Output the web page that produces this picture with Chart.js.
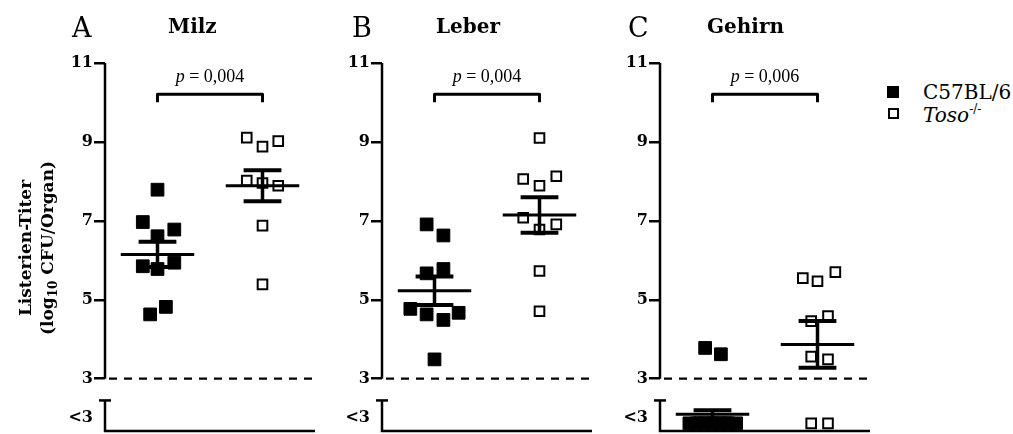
<!DOCTYPE html>
<html>
<head>
<meta charset="utf-8">
<title>Listerien-Titer</title>
<script src="https://cdn.jsdelivr.net/npm/chart.js@4.4.1/dist/chart.umd.min.js"></script>
<style>
  html, body { margin: 0; padding: 0; background: #fff; }
  #page { position: relative; width: 1013px; height: 434px; overflow: hidden; font-family: "DejaVu Serif", serif; color: #000; }
  canvas { position: absolute; top: 0; }
  .letter { position: absolute; top: 14px; font-size: 27px; line-height: 1; }
  .organ { position: absolute; top: 16px; font-size: 20px; font-weight: bold; line-height: 1; }
  #ylabel {
    position: absolute; left: 36px; top: 248px; width: 220px;
    transform: translate(-50%, -50%) rotate(-90deg);
    font-size: 17px; font-weight: bold; line-height: 22px; text-align: center; white-space: nowrap;
  }
  #ylabel sub { font-size: 12px; vertical-align: -4px; line-height: 0; }
  .lg-box { position: absolute; box-sizing: border-box; }
  .lg-text { position: absolute; left: 923px; font-size: 20px; line-height: 1; white-space: nowrap; }
  .lg-text sup { font-size: 12px; vertical-align: 9px; line-height: 0; }
</style>
</head>
<body>
<div id="page">
  <canvas id="panelA" width="330" height="434" style="left:0px"></canvas>
  <canvas id="panelB" width="280" height="434" style="left:330px"></canvas>
  <canvas id="panelC" width="270" height="434" style="left:610px"></canvas>

  <div class="letter" style="left:72px">A</div>
  <div class="organ" style="left:168px">Milz</div>
  <div class="letter" style="left:352px">B</div>
  <div class="organ" style="left:436px">Leber</div>
  <div class="letter" style="left:628px">C</div>
  <div class="organ" style="left:707px">Gehirn</div>

  <div id="ylabel">Listerien-Titer<br>(log<sub>10</sub> CFU/Organ)</div>

  <div class="lg-box" style="left:887px; top:86px; width:12px; height:12px; background:#000"></div>
  <div class="lg-text" style="top:82px">C57BL/6</div>
  <div class="lg-box" style="left:888px; top:108px; width:11px; height:11px; border:2px solid #000; background:#fff"></div>
  <div class="lg-text" style="top:105px"><i>Toso</i><sup>-/-</sup></div>
</div>

<script>
// panels
const organs = ["Milz", "Leber", "Gehirn"];
const pValues = ["0,004", "0,004", "0,006"];
const groups = ["C57BL/6", "Toso-/-"];

// y axis
const yTicks = [11, 9, 7, 5, 3];
const DETECTION_LIMIT = 3;
const BELOW = 1.87;      // where "<3" values sit in the lower axis segment
const BELOW_LABEL = 2.0; // "<3" tick label
const BREAK_TOP = 2.45;  // top of the lower axis segment

// log10 CFU per organ, C57BL/6 (filled squares)
const wtMilz = [7.79, 6.97, 6.78, 6.61, 5.85, 5.94, 5.78, 4.63, 4.82];
const wtMilzX = [0, -0.14, 0.16, 0, -0.14, 0.16, 0, -0.07, 0.08];
const wtLeber = [6.91, 6.63, 5.67, 5.78, 4.77, 4.63, 4.49, 4.67, 3.49];
const wtLeberX = [-0.075, 0.085, -0.075, 0.085, -0.23, -0.075, 0.085, 0.23, 0];
const wtGehirn = [3.78, 3.62, BELOW, BELOW, BELOW, BELOW, BELOW, BELOW, BELOW];
const wtGehirnX = [-0.07, 0.08, -0.22, -0.15, -0.075, 0, 0.075, 0.15, 0.225];

// log10 CFU per organ, Toso-/- (open squares)
const koMilz = [9.11, 8.88, 9.02, 8.02, 7.96, 7.89, 6.88, 5.39];
const koMilzX = [-0.15, 0, 0.15, -0.15, 0, 0.15, 0, 0];
const koLeber = [9.10, 8.06, 7.89, 8.13, 7.08, 6.78, 6.91, 5.73, 4.71];
const koLeberX = [0, -0.155, 0, 0.16, -0.155, 0, 0.16, 0, 0];
const koGehirn = [5.55, 5.47, 5.70, 4.46, 4.59, 3.56, 3.49, BELOW, BELOW];
const koGehirnX = [-0.14, 0, 0.17, -0.06, 0.1, -0.06, 0.1, -0.06, 0.1];

// mean +/- SEM
const wtMean = [6.15, 5.23, 2.10];
const wtSem = [0.32, 0.36, 0.10];
const koMean = [7.89, 7.15, 3.87];
const koSem = [0.39, 0.45, 0.59];

const wtValues = [wtMilz, wtLeber, wtGehirn];
const wtJitter = [wtMilzX, wtLeberX, wtGehirnX];
const koValues = [koMilz, koLeber, koGehirn];
const koJitter = [koMilzX, koLeberX, koGehirnX];

const FONT = "'DejaVu Serif', serif";
const P_FONT = "'Liberation Serif', serif";

function toPoints(values, jitter, groupX) {
    return values.map((v, k) => ({ x: groupX + jitter[k], y: v }));
}

function strokeLine(ctx, x1, y1, x2, y2) {
    ctx.beginPath();
    ctx.moveTo(x1, y1);
    ctx.lineTo(x2, y2);
    ctx.stroke();
}

// axes with break, detection limit, mean/SEM bars, bracket with p value
const panelDecor = {
    id: "panelDecor",
    beforeDatasetsDraw(chart) {
        const { ctx, chartArea: a, scales: { y } } = chart;
        ctx.save();
        ctx.strokeStyle = "#000";
        ctx.lineWidth = 2.5;
        // upper y axis segment
        strokeLine(ctx, a.left, y.getPixelForValue(yTicks[0]), a.left, y.getPixelForValue(DETECTION_LIMIT));
        // lower y axis segment with cap
        const capY = y.getPixelForValue(BREAK_TOP);
        strokeLine(ctx, a.left, capY, a.left, a.bottom);
        strokeLine(ctx, a.left - 6, capY, a.left + 6, capY);
        // x axis
        strokeLine(ctx, a.left - 1, a.bottom - 1, a.right, a.bottom - 1);
        // detection limit
        const limY = y.getPixelForValue(DETECTION_LIMIT);
        ctx.setLineDash([8, 7]);
        ctx.lineWidth = 2.2;
        strokeLine(ctx, a.left + 4, limY, a.right, limY);
        ctx.restore();
    },
    afterDatasetsDraw(chart, args, opts) {
        const { ctx, scales: { x, y } } = chart;
        const i = opts.index;
        ctx.save();
        ctx.strokeStyle = "#000";
        ctx.fillStyle = "#000";
        [[1, wtMean[i], wtSem[i]], [2, koMean[i], koSem[i]]].forEach(([gx, m, s]) => {
            const cx = x.getPixelForValue(gx);
            ctx.lineWidth = 3;
            strokeLine(ctx, x.getPixelForValue(gx - 0.35), y.getPixelForValue(m), x.getPixelForValue(gx + 0.35), y.getPixelForValue(m));
            ctx.lineWidth = 3.5;
            strokeLine(ctx, cx, y.getPixelForValue(m + s), cx, y.getPixelForValue(m - s));
            ctx.lineWidth = 4;
            [m + s, m - s].forEach(v => {
                strokeLine(ctx, x.getPixelForValue(gx - 0.18), y.getPixelForValue(v), x.getPixelForValue(gx + 0.18), y.getPixelForValue(v));
            });
        });

        // significance bracket
        const bx1 = x.getPixelForValue(1);
        const bx2 = x.getPixelForValue(2);
        const by = y.getPixelForValue(10.21);
        ctx.lineWidth = 3;
        ctx.lineJoin = "round";
        ctx.beginPath();
        ctx.moveTo(bx1, by + 8);
        ctx.lineTo(bx1, by);
        ctx.lineTo(bx2, by);
        ctx.lineTo(bx2, by + 8);
        ctx.stroke();

        // p value
        const pFont = "italic 18px " + P_FONT;
        const restFont = "18px " + P_FONT;
        const rest = " = " + pValues[i];
        ctx.font = pFont;
        const wp = ctx.measureText("p").width;
        ctx.font = restFont;
        const wr = ctx.measureText(rest).width;
        const start = (bx1 + bx2) / 2 - (wp + wr) / 2;
        ctx.textBaseline = "alphabetic";
        ctx.textAlign = "left";
        ctx.font = pFont;
        ctx.fillText("p", start, by - 12);
        ctx.font = restFont;
        ctx.fillText(rest, start + wp, by - 12);
        ctx.restore();
    }
};

function makePanel(i, canvasId, axisWidth, padRight) {
    return new Chart(document.getElementById(canvasId), {
        type: "scatter",
        data: {
            datasets: [
                {
                    label: groups[0],
                    data: toPoints(wtValues[i], wtJitter[i], 1),
                    pointStyle: "rect",
                    pointRadius: 9,
                    backgroundColor: "#000",
                    borderColor: "#000",
                    borderWidth: 1,
                    clip: false,
                },
                {
                    label: groups[1],
                    data: toPoints(koValues[i], koJitter[i], 2),
                    pointStyle: "rect",
                    pointRadius: 6.8,
                    backgroundColor: "#fff",
                    borderColor: "#000",
                    borderWidth: 2,
                    clip: false,
                },
            ],
        },
        options: {
            responsive: false,
            animation: false,
            devicePixelRatio: 1,
            layout: { autoPadding: false, padding: { top: 63, bottom: 2, left: 0, right: padRight } },
            plugins: {
                legend: { display: false },
                tooltip: { enabled: false },
                panelDecor: { index: i },
            },
            scales: {
                x: { type: "linear", min: 0.5, max: 2.5, display: false },
                y: {
                    type: "linear",
                    min: 1.65,
                    max: 11,
                    afterFit: (scale) => {
                        scale.width = axisWidth;
                        scale.paddingTop = 0;
                        scale.paddingBottom = 0;
                    },
                    afterBuildTicks: (scale) => {
                        scale.ticks = yTicks.concat([BELOW_LABEL]).map((v) => ({ value: v }));
                    },
                    border: { display: false },
                    grid: {
                        drawOnChartArea: false,
                        drawTicks: true,
                        tickLength: 11,
                        lineWidth: 2.5,
                        tickWidth: 2.5,
                        tickColor: (c) => (c.tick && c.tick.value === BELOW_LABEL ? "rgba(0,0,0,0)" : "#000"),
                    },
                    ticks: {
                        padding: 1,
                        color: "#000",
                        font: { family: FONT, weight: "bold", size: 16 },
                        callback: (v) => (v === BELOW_LABEL ? "<3" : v),
                    },
                },
            },
        },
        plugins: [panelDecor],
    });
}

makePanel(0, "panelA", 105, 15);
makePanel(1, "panelB", 52, 18);
makePanel(2, "panelC", 50, 10);
</script>
</body>
</html>
